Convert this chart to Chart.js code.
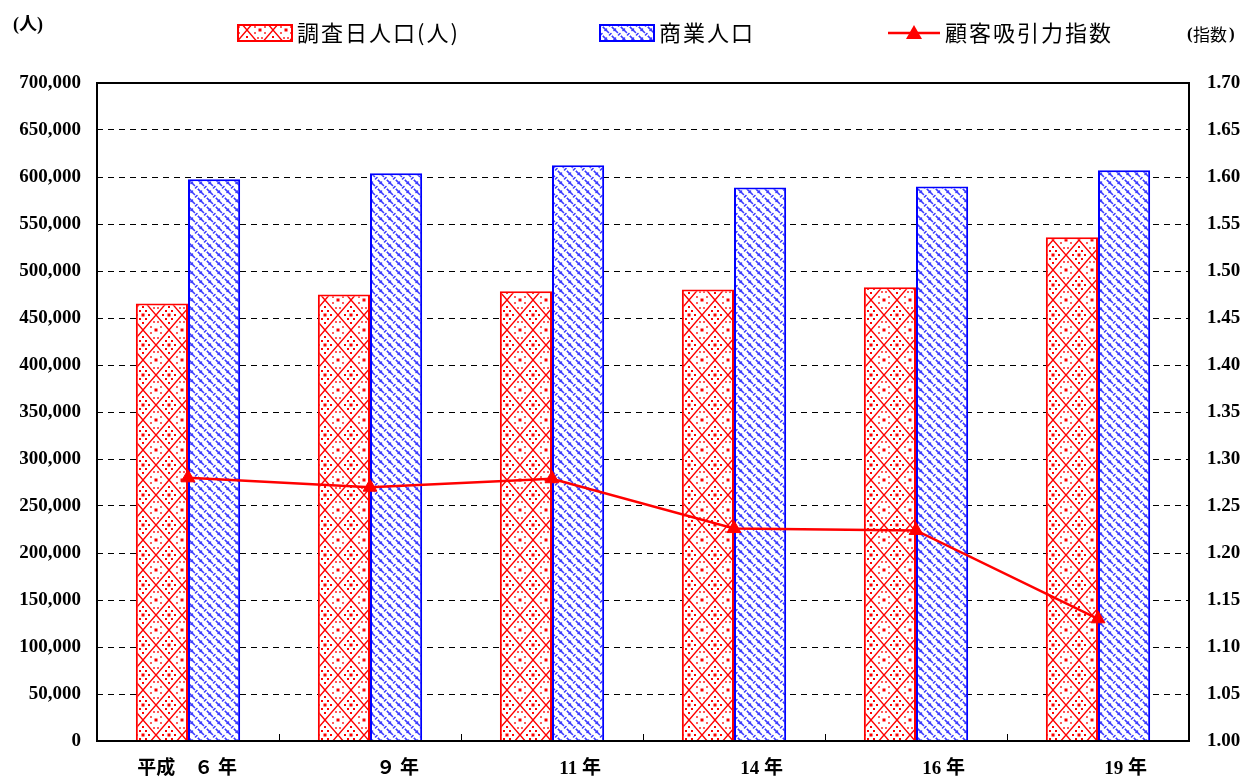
<!DOCTYPE html>
<html lang="ja">
<head>
<meta charset="utf-8">
<script src="https://cdn.jsdelivr.net/npm/chart.js@4.4.1/dist/chart.umd.min.js"></script>
<style>
  html, body { margin: 0; padding: 0; background: #fff; }
</style>
</head>
<body>
<canvas id="myChart" width="1243" height="778"></canvas>
<script>
// data
const categories = ['平成　６ 年', '９ 年', '11 年', '14 年', '16 年', '19 年'];
const surveyPop = [465300, 474900, 478500, 480300, 482700, 536000];      // 調査日人口（人）
const commercialPop = [597500, 604000, 612500, 588700, 590000, 607100];  // 商業人口
const attractionIndex = [1.280, 1.270, 1.279, 1.226, 1.224, 1.130];      // 顧客吸引力指数

const leftAxis = { min: 0, max: 700000, step: 50000 };
const rightAxis = { min: 1.0, max: 1.7, step: 0.05 };

const seriesNames = ['調査日人口(人)', '商業人口', '顧客吸引力指数'];

const tickFont = { family: '"Liberation Serif", "Times New Roman", "Noto Sans CJK JP", serif', size: 19, weight: 'bold' };
const cjkFont = '"Noto Sans CJK JP", "Noto Sans", sans-serif';

function redPattern() {
    const c = document.createElement('canvas');
    c.width = 26; c.height = 30;
    const g = c.getContext('2d');
    g.fillStyle = '#fff';
    g.fillRect(0, 0, 26, 30);
    g.strokeStyle = '#ff0000';
    g.lineWidth = 1.4;
    g.beginPath();
    g.moveTo(13, 0); g.lineTo(26, 15); g.lineTo(13, 30); g.lineTo(0, 15); g.closePath();
    g.stroke();
    g.fillStyle = '#ff0000';
    const dots = [[13, 7], [19, 15], [13, 23], [7, 15], [16, 11], [16, 19], [10, 19], [10, 11]];
    for (const [x, y] of dots) g.fillRect(x - 1, y - 1, 2, 2);
    g.fillRect(11.5, 13.5, 3, 3);
    for (const [x, y] of [[0, 0], [26, 0], [0, 30], [26, 30]]) g.fillRect(x - 1.5, y - 1.5, 3, 3);
    for (const [x, y] of [[5, 3], [21, 3], [5, 27], [21, 27], [2, 8], [24, 8], [2, 22], [24, 22]]) g.fillRect(x - 0.8, y - 0.8, 1.6, 1.6);
    return g.createPattern(c, 'repeat');
}

function bluePattern() {
    const c = document.createElement('canvas');
    c.width = 9; c.height = 9;
    const g = c.getContext('2d');
    g.fillStyle = '#fff';
    g.fillRect(0, 0, 9, 9);
    g.strokeStyle = '#3c3cff';
    g.lineWidth = 1.6;
    g.lineCap = 'round';
    g.beginPath();
    // long "\" strands
    g.moveTo(0, 0); g.lineTo(5.5, 5.5);
    g.moveTo(-4.5, 4.5); g.lineTo(0, 9);
    g.moveTo(4.5, -4.5); g.lineTo(7, -2);
    g.moveTo(9, 0); g.lineTo(9.5, 0.5);
    // short "/" bridges
    g.moveTo(6.5, 8); g.lineTo(8, 6.5);
    g.moveTo(2, 3.5); g.lineTo(3.5, 2);
    g.stroke();
    return g.createPattern(c, 'repeat');
}

const redFill = redPattern();
const blueFill = bluePattern();

// frame, inward x ticks, legend and axis titles
const decorations = {
    id: 'decorations',
    afterDatasetsDraw(chart) {
        const { ctx, chartArea: a, scales } = chart;
        ctx.save();
        // category boundary ticks on the x axis
        const xs = scales.x;
        const half = (xs.getPixelForValue(1) - xs.getPixelForValue(0)) / 2;
        ctx.strokeStyle = '#000';
        ctx.lineWidth = 1;
        for (let i = 0; i < categories.length - 1; i++) {
            const px = Math.round(xs.getPixelForValue(i) + half) + 0.5;
            ctx.beginPath();
            ctx.moveTo(px, a.bottom);
            ctx.lineTo(px, a.bottom - 7);
            ctx.stroke();
        }
        ctx.lineWidth = 2;
        ctx.strokeRect(a.left, a.top, a.right - a.left, a.bottom - a.top);
        ctx.restore();
    },
    afterDraw(chart) {
        const { ctx } = chart;
        ctx.save();
        ctx.textBaseline = 'middle';
        ctx.fillStyle = '#000';

        // axis titles
        ctx.font = 'bold 18px "Liberation Serif", "Noto Sans CJK JP", serif';
        ctx.fillText('(人)', 13, 25);
        ctx.font = 'bold 17px "Liberation Serif", "Noto Sans CJK JP", serif';
        ctx.fillText('(', 1187, 35);
        ctx.font = '17px ' + cjkFont;
        ctx.fillText('指数', 1193, 35);
        ctx.font = 'bold 17px "Liberation Serif", "Noto Sans CJK JP", serif';
        ctx.fillText(')', 1229, 35);

        // legend
        const ly = 33;
        ctx.lineWidth = 2;
        ctx.fillStyle = redFill;
        ctx.fillRect(238, 25, 54, 16);
        ctx.strokeStyle = '#ff0000';
        ctx.strokeRect(238, 25, 54, 16);
        ctx.fillStyle = blueFill;
        ctx.fillRect(600, 25, 54, 16);
        ctx.strokeStyle = '#0000ff';
        ctx.strokeRect(600, 25, 54, 16);

        ctx.strokeStyle = '#ff0000';
        ctx.lineWidth = 2.5;
        ctx.beginPath();
        ctx.moveTo(888, ly);
        ctx.lineTo(940, ly);
        ctx.stroke();
        ctx.fillStyle = '#ff0000';
        ctx.beginPath();
        ctx.moveTo(914, ly - 8);
        ctx.lineTo(922, ly + 6);
        ctx.lineTo(906, ly + 6);
        ctx.closePath();
        ctx.fill();

        ctx.fillStyle = '#000';
        ctx.font = '22px ' + cjkFont;
        ctx.letterSpacing = '2px';
        ctx.fillText(seriesNames[0], 297, ly);
        ctx.fillText(seriesNames[1], 659, ly);
        ctx.fillText(seriesNames[2], 945, ly);
        ctx.restore();
    }
};

const ctx = document.getElementById('myChart').getContext('2d');

const myChart = new Chart(ctx, {
    type: 'bar',
    data: {
        labels: categories,
        datasets: [
            {
                type: 'line',
                label: seriesNames[2],
                data: attractionIndex,
                yAxisID: 'y1',
                borderColor: '#ff0000',
                borderWidth: 2.5,
                pointStyle: 'triangle',
                pointRadius: 8,
                pointBackgroundColor: '#ff0000',
                pointBorderColor: '#ff0000',
                pointBorderWidth: 1,
                tension: 0,
                order: 0
            },
            {
                label: seriesNames[0],
                data: surveyPop,
                yAxisID: 'y',
                backgroundColor: redFill,
                borderColor: '#ff0000',
                borderWidth: 2,
                categoryPercentage: 0.573,
                barPercentage: 1,
                order: 1
            },
            {
                label: seriesNames[1],
                data: commercialPop,
                yAxisID: 'y',
                backgroundColor: blueFill,
                borderColor: '#0000ff',
                borderWidth: 2,
                categoryPercentage: 0.573,
                barPercentage: 1,
                order: 1
            }
        ]
    },
    options: {
        responsive: false,
        animation: false,
        devicePixelRatio: 1,
        layout: { padding: { top: 83, left: 0, right: 0, bottom: 0 } },
        plugins: {
            legend: { display: false },
            tooltip: { enabled: false }
        },
        scales: {
            x: {
                grid: { display: false, drawTicks: false },
                border: { display: false },
                ticks: {
                    color: '#000',
                    font: tickFont,
                    align: 'end',
                    labelOffset: 49,
                    padding: 17,
                    maxRotation: 0,
                    autoSkip: false
                },
                afterFit(scale) { scale.height = 37; }
            },
            y: {
                position: 'left',
                min: leftAxis.min,
                max: leftAxis.max,
                grid: { color: '#000', lineWidth: 1, drawTicks: false },
                border: { display: false, dash: [6, 5] },
                ticks: {
                    stepSize: leftAxis.step,
                    color: '#000',
                    font: tickFont,
                    padding: 16,
                    callback: (v) => v.toLocaleString('en-US')
                },
                afterFit(scale) { scale.width = 97; }
            },
            y1: {
                position: 'right',
                min: rightAxis.min,
                max: rightAxis.max,
                grid: { display: false, drawTicks: false },
                border: { display: false },
                ticks: {
                    stepSize: rightAxis.step,
                    color: '#000',
                    font: tickFont,
                    padding: 18,
                    callback: (v) => Number(v).toFixed(2)
                },
                afterFit(scale) { scale.width = 54; }
            }
        }
    },
    plugins: [decorations]
});
</script>
</body>
</html>
